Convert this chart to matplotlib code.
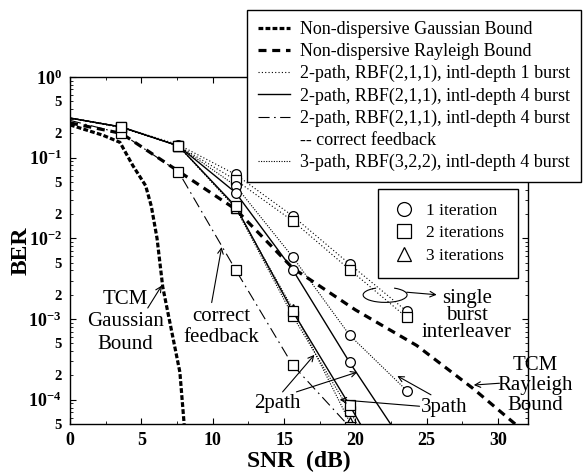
import matplotlib
matplotlib.use("Agg")
import matplotlib.pyplot as plt
import matplotlib.ticker as mticker
from matplotlib.lines import Line2D
from matplotlib.patches import Arc

plt.rcParams.update({
    "font.family": "Liberation Serif",
    "mathtext.fontset": "custom",
    "mathtext.rm": "Liberation Serif",
    "mathtext.bf": "Liberation Serif:bold",
    "axes.linewidth": 1.0,
})

# ── Data ──────────────────────────────────────────────────────────────────────
snr = [0, 3.6, 7.6, 11.6, 15.6, 19.6, 23.6]

gauss_snr = [0, 2.3, 3.5, 4.4, 5.3, 5.7, 6.1, 6.5, 7.7, 8.0]
gauss_ber = [0.255, 0.19, 0.155, 0.08, 0.045, 0.025, 0.01, 2.5e-3, 2.2e-4, 5e-5]

ray_snr = [0, 3.6, 7.6, 11.6, 15.6, 20, 24.3, 28.2, 31.2]
ray_ber = [0.27, 0.2, 0.068, 0.023, 4.3e-3, 1.3e-3, 4.7e-4, 1.4e-4, 5e-5]

# 2-path, interleaver depth 1 burst (single burst interleaver)
single_it1 = [0.31, 0.24, 0.145, 0.062, 0.019, 4.8e-3, 1.25e-3]
single_it2 = [0.31, 0.235, 0.14, 0.053, 0.0165, 4.1e-3, 1.05e-3]

# 2-path, interleaver depth 4 burst
p2_it1 = [0.31, 0.24, 0.14, 0.037, 4.1e-3, 2.9e-4, 2.5e-5]
p2_it2 = [0.31, 0.24, 0.14, 0.025, 1.25e-3, 8.5e-5, 5e-6]

# 2-path, correct feedback
cf_snr = [0, 3.6, 7.6, 11.6, 15.6, 19.6]
cf_ber = [0.29, 0.2, 0.067, 4.1e-3, 2.7e-4, 4.6e-5]

# 3-path, interleaver depth 4 burst
p3_it1 = [0.31, 0.24, 0.14, 0.045, 5.9e-3, 6.3e-4, 1.3e-4]
p3_it2 = [0.31, 0.24, 0.14, 0.024, 1.1e-3, 7.3e-5, 4e-6]
p3_it3 = [0.31, 0.24, 0.14, 0.024, 1.35e-3, 5.3e-5, 2e-6]

# ── Styles ────────────────────────────────────────────────────────────────────
LS_GAUSS = (0, (1.5, 0.7))
LS_RAY = (0, (2.5, 1.8))
LS_SINGLE = (0, (1, 2))
LS_CF = (0, (10, 4, 1.5, 4))
LS_P3 = (0, (1, 1.3))
MK = dict(mfc="white", mec="k", mew=0.9, ms=7, markevery=slice(1, None))

fig = plt.figure(figsize=(5.88, 4.72), dpi=100)
ax = fig.add_axes([70 / 588, 1 - 424 / 472, 458 / 588, 347 / 472])

ax.plot(gauss_snr, gauss_ber, color="k", lw=2.3, ls=LS_GAUSS)
ax.plot(ray_snr, ray_ber, color="k", lw=2.3, ls=LS_RAY)

ax.plot(snr, single_it1, color="k", lw=0.8, ls=LS_SINGLE, marker="o", **MK)
ax.plot(snr, single_it2, color="k", lw=0.8, ls=LS_SINGLE, marker="s", **MK)

ax.plot(snr, p3_it1, color="k", lw=0.8, ls=LS_P3, marker="o", **MK)
ax.plot(snr, p3_it2, color="k", lw=0.8, ls=LS_P3, marker="s", **MK)
ax.plot(snr, p3_it3, color="k", lw=0.8, ls=LS_P3, marker="^", **MK)

ax.plot(cf_snr, cf_ber, color="k", lw=0.8, ls=LS_CF, marker="s", **MK)

ax.plot(snr, p2_it1, color="k", lw=1.0, ls="-", marker="o", **MK)
ax.plot(snr, p2_it2, color="k", lw=1.0, ls="-", marker="s", **MK)

# ── Axes ──────────────────────────────────────────────────────────────────────
ax.set_yscale("log")
ax.set_xlim(0, 32.1)
ax.set_ylim(5e-5, 1)

ax.xaxis.set_major_locator(mticker.MultipleLocator(5))
ax.xaxis.set_minor_locator(mticker.MultipleLocator(2.5))
ax.xaxis.set_major_formatter(mticker.FuncFormatter(lambda v, _: f"{v:.0f}"))

major = [1, 1e-1, 1e-2, 1e-3, 1e-4]
major_lab = [r"$\mathbf{10^{0}}$", r"$\mathbf{10^{-1}}$", r"$\mathbf{10^{-2}}$",
             r"$\mathbf{10^{-3}}$", r"$\mathbf{10^{-4}}$"]
minor = []
minor_lab = []
for dec in [1e-1, 1e-2, 1e-3, 1e-4, 1e-5]:
    for m in range(2, 10):
        v = m * dec
        if 5e-5 <= v < 1:
            minor.append(v)
            minor_lab.append(str(m) if m in (2, 5) else "")
ax.yaxis.set_major_locator(mticker.FixedLocator(major))
ax.yaxis.set_major_formatter(mticker.FixedFormatter(major_lab))
ax.yaxis.set_minor_locator(mticker.FixedLocator(minor))
ax.yaxis.set_minor_formatter(mticker.FixedFormatter(minor_lab))

ax.tick_params(which="both", direction="in", top=True, right=True)
ax.tick_params(which="major", length=4, labelsize=13, pad=6)
ax.tick_params(which="minor", length=2.5, labelsize=10.5, pad=6)
for lab in ax.get_xticklabels():
    lab.set_fontweight("bold")
for lab in ax.get_yticklabels(minor=True):
    lab.set_fontweight("bold")

ax.set_xlabel("SNR  (dB)", fontsize=17, fontweight="bold", labelpad=1)
ax.set_ylabel("BER", fontsize=17, fontweight="bold")
ax.yaxis.set_label_coords(-0.084, 0.5)

# ── Annotations ───────────────────────────────────────────────────────────────
arw = dict(arrowstyle="->", color="k", lw=0.8, shrinkA=0, shrinkB=0)

ax.text(3.9, 9.2e-4, "TCM\nGaussian\nBound", fontsize=15, ha="center", va="center",
        multialignment="center", linespacing=1.25)
ax.annotate("", xy=(6.43, 2.6e-3), xytext=(5.45, 1.37e-3), arrowprops=arw)

ax.text(10.6, 8e-4, "correct\nfeedback", fontsize=15, ha="center", va="center",
        multialignment="center", linespacing=1.1)
ax.annotate("", xy=(10.63, 7.8e-3), xytext=(9.93, 1.6e-3), arrowprops=arw)

ax.text(27.8, 1.1e-3, "single\nburst\ninterleaver", fontsize=15, ha="center",
        va="center", multialignment="center", linespacing=0.85)
ax.add_patch(Arc((0.688, 0.372), 0.096, 0.043, theta1=135, theta2=45,
                 transform=ax.transAxes, color="k", lw=0.8))
ax.annotate("", xy=(25.7, 2.0e-3), xytext=(23.6, 2.15e-3), arrowprops=arw)

ax.text(32.6, 1.5e-4, "TCM\nRayleigh\nBound", fontsize=15, ha="center", va="center",
        multialignment="center", linespacing=1.1, clip_on=False)
ax.annotate("", xy=(28.3, 1.52e-4), xytext=(30.1, 1.6e-4), arrowprops=arw)

ax.text(14.55, 9.1e-5, "2path", fontsize=15, ha="center", va="center")
ax.annotate("", xy=(17.13, 3.6e-4), xytext=(14.9, 1.25e-4), arrowprops=arw)
ax.annotate("", xy=(20.14, 2.2e-4), xytext=(15.87, 1.25e-4), arrowprops=arw)

ax.text(26.2, 8.1e-5, "3path", fontsize=15, ha="center", va="center")
ax.annotate("", xy=(18.9, 1.0e-4), xytext=(24.5, 8.3e-5), arrowprops=arw)
ax.annotate("", xy=(22.94, 1.97e-4), xytext=(25.3, 1.15e-4), arrowprops=arw)

# ── Legends ───────────────────────────────────────────────────────────────────
line_handles = [
    Line2D([], [], color="k", lw=2.3, ls=LS_GAUSS),
    Line2D([], [], color="k", lw=2.3, ls=LS_RAY),
    Line2D([], [], color="k", lw=0.8, ls=LS_SINGLE),
    Line2D([], [], color="k", lw=1.0, ls="-"),
    Line2D([], [], color="k", lw=0.8, ls=LS_CF),
    Line2D([], [], ls="none"),
    Line2D([], [], color="k", lw=0.8, ls=LS_P3),
]
line_labels = [
    "Non-dispersive Gaussian Bound",
    "Non-dispersive Rayleigh Bound",
    "2-path, RBF(2,1,1), intl-depth 1 burst",
    "2-path, RBF(2,1,1), intl-depth 4 burst",
    "2-path, RBF(2,1,1), intl-depth 4 burst",
    "-- correct feedback",
    "3-path, RBF(3,2,2), intl-depth 4 burst",
]
leg1 = fig.legend(line_handles, line_labels, loc="upper left",
                  bbox_to_anchor=(247 / 588, 1 - 10 / 472), fontsize=13,
                  frameon=True, fancybox=False, edgecolor="k", framealpha=1,
                  handlelength=1.8, handletextpad=0.55, borderpad=0.6,
                  labelspacing=0.28, borderaxespad=0)
leg1.get_frame().set_linewidth(1.0)

mk_handles = [
    Line2D([], [], ls="none", marker="o", mfc="w", mec="k", mew=0.9, ms=10),
    Line2D([], [], ls="none", marker="s", mfc="w", mec="k", mew=0.9, ms=10),
    Line2D([], [], ls="none", marker="^", mfc="w", mec="k", mew=0.9, ms=10),
]
leg2 = ax.legend(mk_handles, ["1 iteration", "2 iterations", "3 iterations"],
                 loc="upper right", bbox_to_anchor=((518 - 70) / 458, (424 - 189) / 347),
                 fontsize=12.5, frameon=True, fancybox=False, edgecolor="k",
                 framealpha=1, handlelength=1.5, handletextpad=0.5,
                 borderpad=0.8, labelspacing=0.36, borderaxespad=0)
leg2.get_frame().set_linewidth(1.0)

fig.savefig("out.png", dpi=100)
